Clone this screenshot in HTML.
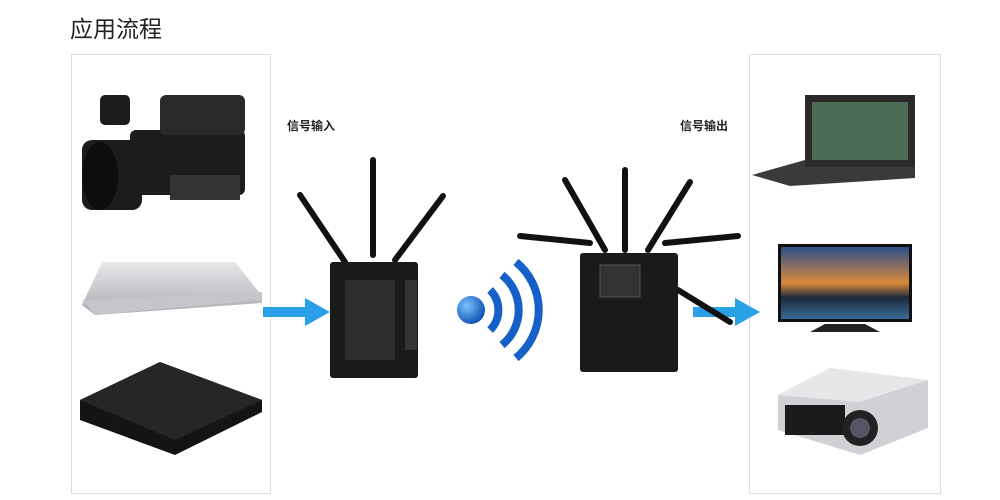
<!DOCTYPE html>
<html><head><meta charset="utf-8"><style>
body{margin:0;width:1000px;height:500px;background:#fff;position:relative;overflow:hidden;font-family:"Liberation Sans","Noto Sans CJK SC",sans-serif}
.a{position:absolute}
</style></head><body>
<div class="a" style="left:70px;top:10px;font-size:23px;color:#222">应用流程</div>
<div class="a" style="left:71px;top:54px;width:198px;height:438px;border:1px solid #ddd"></div>
<div class="a" style="left:749px;top:54px;width:190px;height:438px;border:1px solid #ddd"></div>
<div class="a" style="left:287px;top:117px;font-size:12px;font-weight:bold;color:#222">信号输入</div>
<div class="a" style="left:680px;top:117px;font-size:12px;font-weight:bold;color:#222">信号输出</div>
<svg class="a" style="left:0;top:0" width="1000" height="500">
<defs>
<linearGradient id="lap" x1="0" y1="0" x2="0" y2="1"><stop offset="0" stop-color="#e8e8ea"/><stop offset="1" stop-color="#a9abb0"/></linearGradient>
<linearGradient id="tv" x1="0" y1="0" x2="0" y2="1"><stop offset="0" stop-color="#2a4f8a"/><stop offset=".5" stop-color="#d9893a"/><stop offset=".7" stop-color="#1e2a3a"/><stop offset="1" stop-color="#3a6a9a"/></linearGradient>
<radialGradient id="ball" cx=".35" cy=".35" r=".7"><stop offset="0" stop-color="#7ec3ff"/><stop offset="1" stop-color="#0a4fb0"/></radialGradient>
</defs>
<!-- camera -->
<g fill="#1c1c1e">
<rect x="130" y="130" width="115" height="65" rx="6"/>
<rect x="82" y="140" width="60" height="70" rx="10"/>
<rect x="160" y="95" width="85" height="40" rx="6" fill="#2a2a2c"/>
<rect x="100" y="95" width="30" height="30" rx="5"/>
<rect x="170" y="175" width="70" height="25" fill="#333"/>
</g>
<ellipse cx="100" cy="176" rx="18" ry="34" fill="#0d0d0f"/>
<!-- laptop -->
<path d="M102 262 L235 262 L262 296 L262 303 L95 315 L82 305 Z" fill="url(#lap)"/>
<path d="M82 300 L262 292 L262 300 L95 315 Z" fill="#c4c6ca"/>
<!-- box -->
<path d="M80 400 L160 362 L262 400 L262 412 L175 455 L80 420 Z" fill="#141414"/>
<path d="M80 400 L160 362 L262 400 L175 440 Z" fill="#262626"/>
<!-- arrows -->
<rect x="263" y="307" width="45" height="10" fill="#2aa0e6"/><path d="M305 298 L330 312 L305 326 Z" fill="#2aa0e6"/>
<rect x="693" y="307" width="45" height="10" fill="#2aa0e6"/><path d="M735 298 L760 312 L735 326 Z" fill="#2aa0e6"/>
<!-- transmitter -->
<g stroke="#111" stroke-width="6" stroke-linecap="round">
<line x1="345" y1="262" x2="300" y2="195"/><line x1="373" y1="255" x2="373" y2="160"/><line x1="395" y1="260" x2="443" y2="196"/>
</g>
<rect x="330" y="262" width="88" height="116" rx="3" fill="#1a1a1a"/>
<rect x="345" y="280" width="50" height="80" fill="#2c2c2c"/>
<rect x="405" y="280" width="12" height="70" fill="#333"/>
<!-- wifi -->
<circle cx="471" cy="310" r="14" fill="url(#ball)"/>
<g fill="none" stroke="#1560c8" stroke-width="8">
<path d="M490 290 A28 28 0 0 1 490 330"/>
<path d="M502 275 A45 45 0 0 1 502 345"/>
<path d="M516 262 A62 62 0 0 1 516 358"/>
</g>
<!-- receiver -->
<g stroke="#111" stroke-width="6" stroke-linecap="round">
<line x1="520" y1="236" x2="590" y2="243"/><line x1="565" y1="180" x2="605" y2="250"/><line x1="625" y1="170" x2="625" y2="250"/><line x1="690" y1="182" x2="648" y2="250"/><line x1="738" y1="236" x2="665" y2="243"/><line x1="678" y1="290" x2="730" y2="322"/>
</g>
<rect x="580" y="253" width="98" height="119" rx="3" fill="#1a1a1a"/>
<rect x="600" y="265" width="40" height="32" fill="#333" stroke="#555"/>
<!-- switcher -->
<path d="M752 175 L805 160 L915 162 L915 178 L790 186 Z" fill="#3a3a3a"/>
<rect x="805" y="95" width="110" height="72" fill="#2a2a2a"/>
<rect x="812" y="102" width="96" height="58" fill="#4a6a55"/>
<!-- tv -->
<rect x="778" y="244" width="134" height="78" fill="#111"/>
<rect x="781" y="247" width="128" height="72" fill="url(#tv)"/>
<path d="M825 324 L865 324 L880 332 L810 332 Z" fill="#222"/>
<!-- projector -->
<path d="M778 395 L830 368 L928 380 L928 428 L860 455 L778 430 Z" fill="#cfd1d4"/>
<path d="M778 395 L830 368 L928 380 L860 402 Z" fill="#e6e7e9"/>
<rect x="785" y="405" width="60" height="30" fill="#1b1b1b"/>
<circle cx="860" cy="428" r="18" fill="#222"/><circle cx="860" cy="428" r="10" fill="#556"/>
</svg>
</body></html>
